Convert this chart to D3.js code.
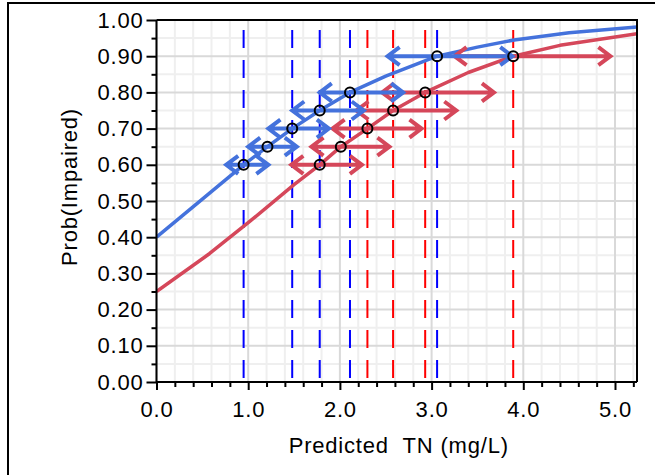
<!DOCTYPE html>
<html>
<head>
<meta charset="utf-8">
<script src="https://cdn.jsdelivr.net/npm/d3@7"></script>
<style>
    body { margin: 0; background: #fff; }
    text { font-family: 'Liberation Sans', Arial, sans-serif; fill: #000; }
</style>
</head>
<body>
<div id="chart"></div>
<script>
// probability levels where the intervals are read
const probLevels = [0.60, 0.65, 0.70, 0.75, 0.80, 0.90];

// blue group: point estimate and interval ends (mg/L)
const blueX = [0.95, 1.21, 1.48, 1.78, 2.11, 3.06];
const blueLow = [0.76, 1.00, 1.22, 1.48, 1.78, 2.52];
const blueHigh = [1.22, 1.53, 1.88, 2.26, 2.69, 3.88];

// red group
const redX = [1.78, 2.01, 2.30, 2.58, 2.93, 3.89];
const redLow = [1.47, 1.69, 1.92, 2.18, 2.46, 3.25];
const redHigh = [2.24, 2.54, 2.89, 3.27, 3.68, 4.95];

// dashed reference lines
const blueRefX = [0.95, 1.48, 1.78, 2.11, 3.06];
const redRefX = [2.30, 2.58, 2.93, 3.89];

// fitted curves
const blueCurveX = [0, 0.5, 0.95, 1.21, 1.48, 1.78, 2.11, 2.5, 3.06, 3.5, 3.9, 4.5, 5.24];
const blueCurveP = [0.40, 0.505, 0.60, 0.65, 0.70, 0.75, 0.80, 0.845, 0.90, 0.925, 0.945, 0.965, 0.981];
const redCurveX = [0, 0.58, 1.0, 1.5, 1.78, 2.01, 2.30, 2.58, 2.93, 3.4, 3.89, 4.4, 5.24];
const redCurveP = [0.25, 0.355, 0.44, 0.545, 0.60, 0.65, 0.70, 0.75, 0.80, 0.855, 0.90, 0.93, 0.962];

const xTicks = [0, 1, 2, 3, 4, 5];
const yTicks = [0, 0.1, 0.2, 0.3, 0.4, 0.5, 0.6, 0.7, 0.8, 0.9, 1.0];

const width = 655;
const height = 475;
const margin = { top: 20, right: 18, bottom: 93, left: 156.5 };

const blue = '#4472dc';
const red = '#d5475a';
const fontSize = '22px';
const spacing = '0.8px';

const svg = d3.select('#chart').append('svg')
    .attr('width', width)
    .attr('height', height);

svg.append('rect').attr('width', width).attr('height', height).attr('fill', '#fff');

// outer frame (only top and left visible)
svg.append('path')
    .attr('d', `M8,${height} V3 H${width}`)
    .attr('fill', 'none')
    .attr('stroke', '#000')
    .attr('stroke-width', 2);

const x = d3.scaleLinear().domain([0, 5.24]).range([margin.left, width - margin.right]);
const y = d3.scaleLinear().domain([0, 1]).range([height - margin.bottom, margin.top]);

const [x0, x1] = x.range();
const [y0, y1] = y.range();

// grid
const xMinor = d3.range(0, 5.24, 0.2).filter(v => Math.abs(v - Math.round(v)) > 1e-6);
const yMinor = d3.range(0.05, 1, 0.1);

const grid = svg.append('g');
grid.selectAll('.vminor').data(xMinor).join('line')
    .attr('x1', d => x(d)).attr('x2', d => x(d)).attr('y1', y0).attr('y2', y1)
    .attr('stroke', '#efefef').attr('stroke-width', 2);
grid.selectAll('.hminor').data(yMinor).join('line')
    .attr('x1', x0).attr('x2', x1).attr('y1', d => y(d)).attr('y2', d => y(d))
    .attr('stroke', '#efefef').attr('stroke-width', 2);
grid.selectAll('.vmajor').data(xTicks).join('line')
    .attr('x1', d => x(d)).attr('x2', d => x(d)).attr('y1', y0).attr('y2', y1)
    .attr('stroke', '#d9d9d9').attr('stroke-width', 2);
grid.selectAll('.hmajor').data(yTicks).join('line')
    .attr('x1', x0).attr('x2', x1).attr('y1', d => y(d)).attr('y2', d => y(d))
    .attr('stroke', '#d9d9d9').attr('stroke-width', 2);

// dashed reference lines
const refs = [
    ...blueRefX.map(v => ({ v, color: '#0000ff' })),
    ...redRefX.map(v => ({ v, color: '#ff0000' })),
];
svg.append('g').selectAll('line').data(refs).join('line')
    .attr('x1', d => x(d.v)).attr('x2', d => x(d.v))
    .attr('y1', y1).attr('y2', y0)
    .attr('stroke', d => d.color)
    .attr('stroke-width', 2)
    .attr('stroke-dasharray', '18,12')
    .attr('stroke-dashoffset', 20);

// curves
svg.append('clipPath').attr('id', 'plotClip')
    .append('rect').attr('x', x0).attr('y', y1).attr('width', x1 - x0).attr('height', y0 - y1);

const line = d3.line().x(d => x(d[0])).y(d => y(d[1]));
const curves = [
    { color: red, data: d3.zip(redCurveX, redCurveP) },
    { color: blue, data: d3.zip(blueCurveX, blueCurveP) },
];
svg.append('g').attr('clip-path', 'url(#plotClip)')
    .selectAll('path').data(curves).join('path')
    .attr('d', d => line(d.data))
    .attr('fill', 'none')
    .attr('stroke', d => d.color)
    .attr('stroke-width', 3.5)
    .attr('stroke-linejoin', 'round');

// interval arrows
function arrowPath(lo, hi, p) {
    const yy = y(p);
    const a = x(lo);
    const b = x(hi);
    const hw = 12, hh = 9;
    return `M${a},${yy}H${b}` +
        `M${b - hw},${yy - hh}L${b},${yy}L${b - hw},${yy + hh}` +
        `M${a + hw},${yy - hh}L${a},${yy}L${a + hw},${yy + hh}`;
}
const arrows = [
    ...probLevels.map((p, i) => ({ p, lo: redLow[i], hi: redHigh[i], color: red })),
    ...probLevels.map((p, i) => ({ p, lo: blueLow[i], hi: blueHigh[i], color: blue })),
];
svg.append('g').selectAll('path').data(arrows).join('path')
    .attr('d', d => arrowPath(d.lo, d.hi, d.p))
    .attr('fill', 'none')
    .attr('stroke', d => d.color)
    .attr('stroke-width', 4)
    .attr('stroke-linejoin', 'miter');

// point estimates
const points = [
    ...probLevels.map((p, i) => ({ p, v: blueX[i] })),
    ...probLevels.map((p, i) => ({ p, v: redX[i] })),
];
svg.append('g').selectAll('circle').data(points).join('circle')
    .attr('cx', d => x(d.v)).attr('cy', d => y(d.p))
    .attr('r', 5)
    .attr('fill', 'none')
    .attr('stroke', '#000')
    .attr('stroke-width', 2);

// frame top/right
svg.append('path')
    .attr('d', `M${x0},${y1}H${x1}V${y0}`)
    .attr('fill', 'none').attr('stroke', '#000').attr('stroke-width', 2);

// axes
const xAxis = svg.append('g').attr('transform', `translate(0,${y0})`);
xAxis.call(d3.axisBottom(x).tickValues(xMinor).tickSize(5).tickFormat(''));
xAxis.call(g => g.select('.domain').remove());
const xMajor = svg.append('g').attr('transform', `translate(0,${y0})`)
    .call(d3.axisBottom(x).tickValues(xTicks).tickSize(8).tickPadding(11).tickFormat(d3.format('.1f')));

const yAxis = svg.append('g').attr('transform', `translate(${x0},0)`);
yAxis.call(d3.axisLeft(y).tickValues(yMinor).tickSize(5).tickFormat(''));
yAxis.call(g => g.select('.domain').remove());
const yMajor = svg.append('g').attr('transform', `translate(${x0},0)`)
    .call(d3.axisLeft(y).tickValues(yTicks).tickSize(10).tickPadding(3).tickFormat(d3.format('.2f')));

svg.selectAll('.tick line').attr('stroke', '#000').attr('stroke-width', 2);
svg.selectAll('.domain').attr('stroke', '#000').attr('stroke-width', 2);
svg.selectAll('.tick text')
    .style('font-size', fontSize)
    .style('letter-spacing', spacing)
    .style('font-family', "'Liberation Sans', Arial, sans-serif")
    .attr('fill', '#000');

// keep axis lines to the plot extent
xMajor.select('.domain').attr('d', `M${x0},0H${x1}`);
yMajor.select('.domain').attr('d', `M0,${y0}V${y1}`);

// axis titles
svg.append('text')
    .attr('x', (x0 + x1) / 2 + 2)
    .attr('y', 453)
    .attr('text-anchor', 'middle')
    .style('font-size', fontSize)
    .style('letter-spacing', spacing)
    .text('Predicted\u00a0\u00a0TN (mg/L)');

svg.append('text')
    .attr('transform', `translate(77,${(y0 + y1) / 2 - 14}) rotate(-90)`)
    .attr('text-anchor', 'middle')
    .style('font-size', fontSize)
    .style('letter-spacing', spacing)
    .text('Prob(Impaired)');
</script>
</body>
</html>
